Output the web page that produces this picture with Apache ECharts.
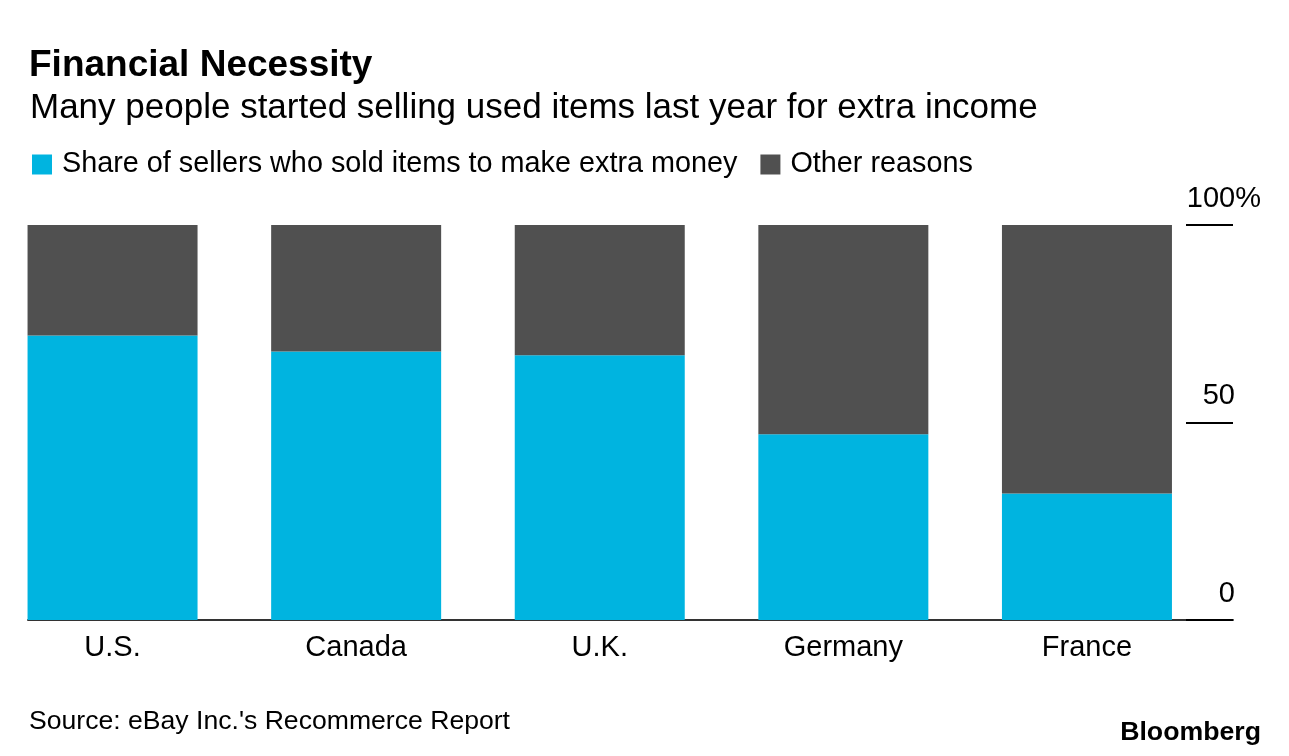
<!DOCTYPE html>
<html>
<head>
<meta charset="utf-8">
<script src="https://cdn.jsdelivr.net/npm/echarts@6/dist/echarts.min.js"></script>
<style>
  html, body { margin: 0; padding: 0; background: #fff; }
  #chart { width: 1289px; height: 756px; }
</style>
</head>
<body>
<div id="chart"></div>
<script>
const categories = ['U.S.', 'Canada', 'U.K.', 'Germany', 'France'];
const extraMoney = [72, 68, 67, 47, 32];
const otherReasons = [28, 32, 33, 53, 68];
const yTicks = [0, 50, 100];
const seriesNames = ['Share of sellers who sold items to make extra money', 'Other reasons'];

const FONT = '"Liberation Sans", Arial, Helvetica, sans-serif';
const BLUE = '#00b4e0';
const GRAY = '#505050';

const chart = echarts.init(document.getElementById('chart'), null, { renderer: 'canvas' });

const option = {
  backgroundColor: '#ffffff',
  animation: false,
  textStyle: { fontFamily: FONT },
  title: [
    { text: 'Financial Necessity', left: 24, top: 42,
      textStyle: { fontFamily: FONT, fontSize: 37, fontWeight: 'bold', color: '#000' } },
    { text: 'Many people started selling used items last year for extra income', left: 25, top: 86,
      textStyle: { fontFamily: FONT, fontSize: 35, fontWeight: 'normal', color: '#000' } },
    { text: "Source: eBay Inc.'s Recommerce Report", left: 24, top: 703,
      textStyle: { fontFamily: FONT, fontSize: 26.6, fontWeight: 'normal', color: '#000' } },
    { text: 'Bloomberg', right: 23, top: 714,
      textStyle: { fontFamily: FONT, fontSize: 26.7, fontWeight: 'bold', color: '#000' } }
  ],
  legend: {
    left: 27, top: 145,
    itemWidth: 20, itemHeight: 20, itemGap: 23,
    icon: 'rect',
    textStyle: { fontFamily: FONT, fontSize: 28.8, color: '#000', padding: [0, 0, 0, 5] },
    data: seriesNames
  },
  grid: [
    { left: -9.25, right: 80.25, top: 225, bottom: 136, outerBoundsMode: 'none', containLabel: false },
    { left: 28, right: 56, top: 225, bottom: 136, outerBoundsMode: 'none', containLabel: false }
  ],
  xAxis: [
    { type: 'category', gridIndex: 0, data: categories,
      axisLine: { show: false }, axisTick: { show: false },
      axisLabel: { fontFamily: FONT, fontSize: 29, color: '#000', margin: 13 } },
    { type: 'value', gridIndex: 1, min: 0, max: 1,
      axisLine: { show: true, onZero: false, lineStyle: { color: '#333', width: 2 } },
      axisTick: { show: false }, axisLabel: { show: false }, splitLine: { show: false } }
  ],
  yAxis: [
    { type: 'value', gridIndex: 0, min: 0, max: 100, show: false },
    { type: 'value', gridIndex: 1, position: 'right', min: 0, max: 100, interval: 50,
      axisLine: { show: false, onZero: false },
      axisTick: { show: true, inside: true, length: 47, lineStyle: { color: '#000', width: 2 } },
      splitLine: { show: false },
      axisLabel: {
        margin: 28, align: 'right', verticalAlign: 'bottom', padding: [0, 0, 12, 0],
        fontFamily: FONT, fontSize: 29, color: '#000',
        formatter: function (v) {
          return v === yTicks[yTicks.length - 1] ? '{n|' + v + '}{p|%}' : '{n|' + v + '}{e|}';
        },
        rich: {
          n: { fontFamily: FONT, fontSize: 29, color: '#000' },
          p: { fontFamily: FONT, fontSize: 29, color: '#000' },
          e: { fontFamily: FONT, fontSize: 29, width: 26 }
        }
      } }
  ],
  series: [
    { name: seriesNames[0], type: 'bar', stack: 'total', xAxisIndex: 0, yAxisIndex: 0,
      barWidth: 170, itemStyle: { color: BLUE }, data: extraMoney },
    { name: seriesNames[1], type: 'bar', stack: 'total', xAxisIndex: 0, yAxisIndex: 0,
      barWidth: 170, itemStyle: { color: GRAY }, data: otherReasons }
  ]
};

chart.setOption(option);
</script>
</body>
</html>
